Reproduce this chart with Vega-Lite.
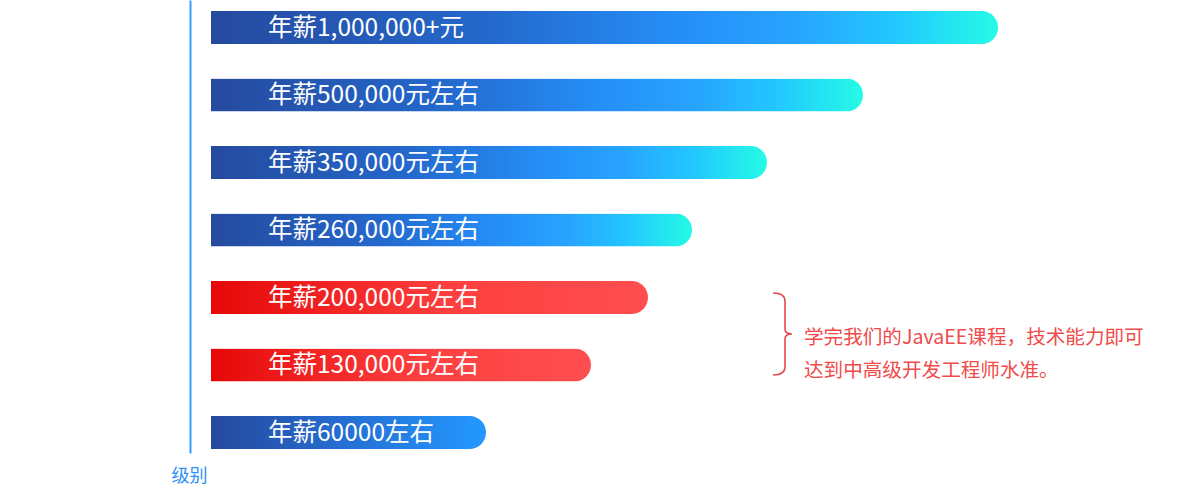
{
  "$schema": "https://vega.github.io/schema/vega-lite/v6.json",
  "width": 989,
  "height": 453,
  "autosize": {"type": "none"},
  "padding": {"left": 211, "top": 0, "right": 0, "bottom": 45},
  "background": "white",
  "config": {"view": {"stroke": null}},
  "datasets": {
    "levels": [
      {"level": "年薪1,000,000+元", "value": 787, "tier": "blue"},
      {"level": "年薪500,000元左右", "value": 652, "tier": "blue"},
      {"level": "年薪350,000元左右", "value": 556, "tier": "blue"},
      {"level": "年薪260,000元左右", "value": 481, "tier": "blue"},
      {"level": "年薪200,000元左右", "value": 437, "tier": "red"},
      {"level": "年薪130,000元左右", "value": 380, "tier": "red"},
      {"level": "年薪60000左右", "value": 275, "tier": "base"}
    ],
    "note": [
      {"text": ["学完我们的JavaEE课程，技术能力即可", "达到中高级开发工程师水准。"], "level": "年薪200,000元左右"}
    ]
  },
  "data": {"name": "levels"},
  "encoding": {
    "y": {
      "field": "level",
      "type": "nominal",
      "sort": null,
      "scale": {"paddingInner": 0.511, "paddingOuter": 0.111, "align": 0.73},
      "axis": {
        "title": "级别",
        "titleAngle": 0,
        "titleX": -1,
        "titleY": 476,
        "titleAlign": "center",
        "titleBaseline": "middle",
        "titleFontSize": 18,
        "titleFont": "Noto Sans CJK SC",
        "titleFontWeight": "normal",
        "titleColor": "#2b8ff5",
        "labels": false,
        "ticks": false,
        "grid": false,
        "domainColor": "#3a9bff",
        "domainWidth": 2,
        "offset": 21
      }
    }
  },
  "layer": [
    {
      "transform": [{"filter": "datum.tier === 'blue'"}],
      "mark": {
        "type": "bar",
        "cornerRadiusEnd": 16.5,
        "color": {
          "gradient": "linear", "x1": 0, "y1": 0, "x2": 1, "y2": 0,
          "stops": [
            {"offset": 0, "color": "#254a9e"},
            {"offset": 0.35, "color": "#2468cc"},
            {"offset": 0.6, "color": "#258ff8"},
            {"offset": 0.74, "color": "#28a3ff"},
            {"offset": 0.87, "color": "#22c8ff"},
            {"offset": 1, "color": "#25fbe5"}
          ]
        }
      },
      "encoding": {
        "x": {"field": "value", "type": "quantitative", "scale": {"domain": [0, 989], "nice": false}, "axis": null}
      }
    },
    {
      "transform": [{"filter": "datum.tier === 'red'"}],
      "mark": {
        "type": "bar",
        "cornerRadiusEnd": 16.5,
        "color": {
          "gradient": "linear", "x1": 0, "y1": 0, "x2": 1, "y2": 0,
          "stops": [
            {"offset": 0, "color": "#e60808"},
            {"offset": 0.55, "color": "#fd3f3f"},
            {"offset": 1, "color": "#ff4e50"}
          ]
        }
      },
      "encoding": {
        "x": {"field": "value", "type": "quantitative"}
      }
    },
    {
      "transform": [{"filter": "datum.tier === 'base'"}],
      "mark": {
        "type": "bar",
        "cornerRadiusEnd": 16.5,
        "color": {
          "gradient": "linear", "x1": 0, "y1": 0, "x2": 1, "y2": 0,
          "stops": [
            {"offset": 0, "color": "#25489c"},
            {"offset": 0.5, "color": "#2570d5"},
            {"offset": 1, "color": "#2299ff"}
          ]
        }
      },
      "encoding": {
        "x": {"field": "value", "type": "quantitative"}
      }
    },
    {
      "mark": {
        "type": "text",
        "align": "left",
        "baseline": "middle",
        "dx": 57,
        "dy": 1.5,
        "font": "Noto Sans CJK SC",
        "fontSize": 24.5,
        "color": "white"
      },
      "encoding": {
        "x": {"datum": 0, "type": "quantitative"},
        "text": {"field": "level"}
      }
    },
    {
      "data": {"name": "note"},
      "mark": {
        "type": "text",
        "align": "left",
        "baseline": "middle",
        "dy": 41,
        "lineHeight": 33,
        "font": "Noto Sans CJK SC",
        "fontSize": 19.6,
        "color": "#f04a4a"
      },
      "encoding": {
        "x": {"datum": 593, "type": "quantitative"},
        "y": {"field": "level", "type": "nominal", "sort": null},
        "text": {"field": "text"}
      }
    },
    {
      "data": {"name": "note"},
      "mark": {
        "type": "point",
        "shape": "M -0.29 -1 Q 0 -1 0 -0.8 L 0 -0.12 Q 0 0 0.17 0 Q 0 0 0 0.12 L 0 0.8 Q 0 1 -0.29 1",
        "size": 6724,
        "filled": false,
        "stroke": "#e84a4a",
        "strokeWidth": 1.6,
        "opacity": 1,
        "yOffset": 36.5
      },
      "encoding": {
        "x": {"datum": 574, "type": "quantitative"},
        "y": {"field": "level", "type": "nominal", "sort": null}
      }
    }
  ]
}
